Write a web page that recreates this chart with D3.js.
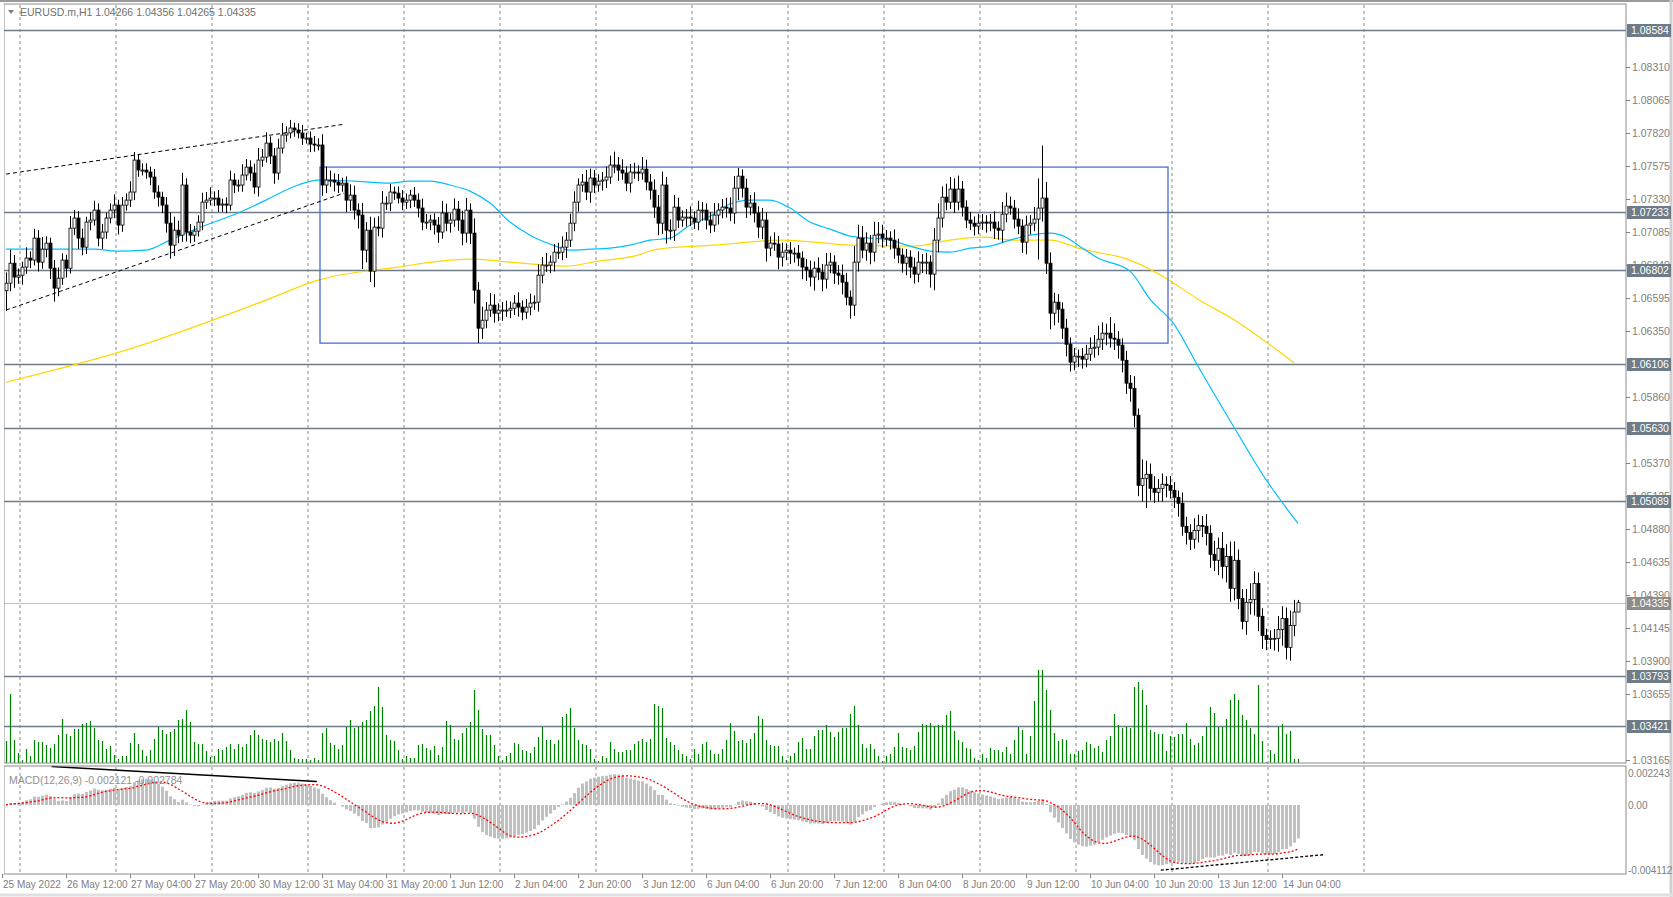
<!DOCTYPE html>
<html><head><meta charset="utf-8">
<script src="https://cdn.jsdelivr.net/npm/d3@7"></script>
<style>body{margin:0;background:#fff}svg{display:block}text{font-family:Tahoma,"Liberation Sans",sans-serif;}</style>
</head><body><svg id="c" width="1673" height="897"></svg>
<script>
// ---- data ----
const closes5 = [6706,6854,6751,6765,6825,6892,6877,7040,6862,6958,7003,6817,6669,6743,6877,6817,7114,7189,7040,6973,
7159,7174,7248,7040,7085,7189,7248,7285,7137,7285,7322,7382,7619,7545,7545,7530,7493,7382,7344,7285,
7151,6988,7099,7062,7434,7085,7062,7092,7159,7307,7322,7337,7337,7285,7293,7285,7471,7434,7434,7508,
7567,7523,7419,7619,7641,7745,7649,7523,7708,7805,7820,7857,7842,7820,7782,7782,7738,7731,7731,7434,
7471,7471,7456,7434,7448,7322,7359,7248,7211,6951,7099,6795,7122,7114,7300,7300,7382,7374,7337,7307,
7322,7359,7322,7263,7159,7159,7174,7137,7085,7226,7151,7174,7255,7174,7077,7248,7077,6654,6372,6431,
6506,6543,6483,6506,6506,6506,6520,6558,6528,6491,6528,6558,6565,6765,6840,6840,6862,6936,6936,6973,
7025,7151,7307,7434,7456,7382,7486,7434,7463,7471,7493,7582,7582,7545,7523,7448,7530,7530,7523,7552,
7456,7396,7270,7151,7434,7099,7099,7270,7174,7196,7196,7189,7159,7248,7248,7174,7137,7211,7248,7270,
7263,7226,7411,7500,7411,7270,7300,7226,7122,7174,6966,7003,6996,6899,6936,6951,6929,6929,6892,6825,
6803,6751,6817,6788,6736,6840,6862,6780,6765,6713,6602,6543,6862,7040,6951,7003,6936,7062,7070,7040,
7040,7025,6966,6914,6854,6899,6825,6773,6862,6862,6862,6773,7025,7189,7344,7307,7404,7307,7404,7270,
7174,7151,7129,7151,7159,7151,7159,7114,7099,7218,7278,7263,7181,7129,7010,7137,7151,7181,7263,7337,
6854,6483,6565,6513,6372,6253,6120,6164,6164,6142,6179,6223,6231,6290,6335,6335,6298,6290,6246,6134,
5964,5926,5726,5206,5258,5288,5184,5154,5184,5214,5206,5169,5117,5073,4902,4857,4806,4872,4909,4902,
4850,4694,4650,4739,4605,4679,4442,4650,4367,4197,4338,4360,4479,4234,4093,4063,4071,4071,4137,4219,
4004,4167,4266,4335];
const closes = closes5.map(v => 1 + v / 1e5);
const firstOpen = 1.06650;
const wickHi = [8,10,6,5,4,8,5,7,6,9,5,4,6,8,5,4,9,6,5,7, 4,6,7,5,6,4,5,8,4,6,5,8,6,4,5,5,4,6,5,4,
6,8,10,7,9,5,6,4,5,7,6,8,5,6,4,5,7,5,4,8, 6,5,7,9,6,8,5,6,7,9,5,6,4,5,6,4,5,6,5,8,
10,7,5,6,4,5,8,7,5,9,6,10,7,8,9,5,6,4,5,6, 5,4,6,5,7,6,4,5,6,9,7,5,8,6,7,9,5,11,6,10,
6,9,8,5,6,7,5,6,8,5,6,7,5,8,6,9,5,6,7,8, 6,7,8,5,6,9,7,6,5,6,8,7,10,6,8,5,6,7,5,9,
7,6,8,9,10,6,8,9,7,5,6,8,5,7,6,5,6,9,5,6, 7,8,9,6,5,7,6,8,5,9,6,5,8,6,7,5,6,4,6,5,
6,7,5,8,6,9,7,5,6,8,7,5,12,10,9,8,6,10,9,7, 6,5,8,7,5,6,5,7,8,6,7,5,9,11,8,10,9,8,10,6,
5,6,5,7,6,5,6,8,5,9,10,7,6,8,5,7,6,9,22,39, 12,8,7,6,5,7,5,6,5,6,7,8,9,10,8,7,12,11,6,5,
7,6,9,5,14,10,8,9,7,8,6,7,6,5,8,7,6,9,8,7, 9,6,10,8,12,9,11,14,8,7,10,12,9,8,6,5,6,7,10,9, 8,11,9,2.1];
const wickLo = [15,6,8,5,7,5,6,4,7,5,6,8,10,6,5,7,4,5,8,6, 5,6,4,6,8,5,4,6,7,5,4,5,6,5,4,5,6,5,7,6,
7,10,8,6,5,7,6,5,4,6,5,4,6,5,5,6,4,6,5,5, 4,6,5,7,5,4,6,8,5,4,5,4,5,4,5,4,6,5,4,8,
6,5,7,6,5,9,8,7,10,14,9,8,12,6,7,5,6,5,4,6, 5,6,5,7,6,5,6,7,8,5,6,7,5,8,9,7,8,10,11,8,
6,5,7,6,8,5,6,5,7,6,5,6,5,7,6,5,6,7,5,6, 8,5,6,7,5,6,8,6,5,7,6,5,6,8,5,6,7,5,6,5,
6,7,8,9,8,10,7,8,6,5,7,6,5,6,8,7,6,5,7,6, 7,6,8,9,7,8,6,7,8,9,10,6,5,9,7,6,8,7,6,9,
8,7,10,6,9,7,6,8,7,9,6,10,8,7,6,8,9,7,6,7, 6,7,8,6,7,9,8,7,6,8,9,10,12,9,7,6,5,8,6,7,
6,5,7,6,5,7,6,8,7,9,6,5,7,6,8,9,7,6,30,10, 8,12,9,10,8,9,7,6,8,7,6,5,7,6,8,9,7,8,10,9,
8,10,9,8,12,22,9,8,7,10,9,6,8,10,7,9,8,7,9,8, 9,10,8,11,9,12,10,9,8,6,10,9,12,11,10,8,7,9,10,12, 9,10,8,0.1];
const volumes = [22,69,23,10,3,14,7,23,21,21,18,15,19,28,44,29,27,34,34,39,40,42,35,23,22,14,17,8,4,7,
7,20,30,19,13,7,13,24,36,33,29,31,34,43,44,53,41,21,19,19,12,6,7,14,13,16,19,14,19,16,
19,28,33,28,24,23,21,24,22,30,22,13,5,4,4,4,3,5,3,30,35,20,18,14,18,36,43,35,36,41,
43,52,57,76,56,28,23,22,13,4,7,5,5,18,19,15,13,17,8,16,42,38,24,23,30,35,41,73,53,34,
28,28,18,7,3,7,10,20,19,13,12,10,16,26,36,23,23,19,23,46,49,55,35,23,19,18,14,4,2,7,
5,21,14,11,11,13,13,19,22,24,21,24,59,57,55,25,21,18,13,9,7,4,14,9,19,21,13,9,9,14,
23,40,32,22,23,20,24,30,47,44,23,18,17,17,7,3,7,10,21,25,14,14,27,33,33,38,31,26,31,35,
35,49,57,38,19,15,19,14,7,2,7,9,16,30,16,15,13,17,31,39,38,40,37,38,38,48,52,32,23,21,
15,14,5,3,9,5,15,13,13,11,16,9,23,36,33,9,27,62,93,93,73,53,30,22,24,23,9,9,12,13,
21,19,15,17,11,23,27,49,38,35,36,35,76,81,73,58,33,31,29,29,12,27,26,29,29,40,24,18,20,27,
36,56,50,36,36,44,63,69,63,48,43,35,29,78,22,1,13,9,36,39,29,32,4,4];
const maFast = [[0,1.06958],[22,1.06958],[28,1.06944],[35,1.06951],[41,1.07025],[48,1.07114],[58,1.07226],[65,1.07322],
[73,1.07434],[78,1.07471],[87,1.07463],[96,1.07448],[101,1.07463],[106,1.07463],[111,1.07434],[116,1.07389],
[121,1.07300],[126,1.07159],[131,1.07062],[136,1.06996],[141,1.06951],[146,1.06958],[151,1.06966],[156,1.06988],
[161,1.07025],[166,1.07040],[171,1.07137],[176,1.07203],[181,1.07293],[186,1.07322],[191,1.07322],[196,1.07263],
[201,1.07159],[206,1.07107],[211,1.07055],[216,1.07040],[221,1.07025],[226,1.06981],[231,1.06944],[236,1.06936],
[241,1.06966],[246,1.06981],[251,1.07025],[256,1.07062],[261,1.07077],[265,1.07047],[268,1.06988],[273,1.06892],
[281,1.06795],[286,1.06587],[292,1.06402],[298,1.06090],[307,1.05637],[315,1.05248],[323,1.04924]];
const maSlow = [[0,1.05971],[30,1.06209],[65,1.06580],[78,1.06728],[98,1.06825],[111,1.06877],[117,1.06884],
[126,1.06862],[140,1.06832],[148,1.06869],[157,1.06906],[163,1.06958],[177,1.06988],[194,1.07025],[202,1.07010],
[211,1.06988],[227,1.06981],[236,1.07025],[244,1.07047],[252,1.07025],[261,1.07025],[269,1.06958],[281,1.06877],
[290,1.06743],[298,1.06587],[307,1.06434],[315,1.06270],[322,1.06115]];
const levels = [1.08584,1.07233,1.06802,1.06106,1.05630,1.05089,1.03793,1.03421];
const lastPrice = 1.04335;
const priceTicks = [1.08310,1.08065,1.07820,1.07575,1.07330,1.07085,1.06840,1.06595,1.06350,1.05860,1.05370,1.05125,1.04880,1.04635,1.04390,1.04145,1.03900,1.03655,1.03165];
const timeLabels = ["25 May 2022","26 May 12:00","27 May 04:00","27 May 20:00","30 May 12:00","31 May 04:00","31 May 20:00","1 Jun 12:00","2 Jun 04:00","2 Jun 20:00","3 Jun 12:00","6 Jun 04:00","6 Jun 20:00","7 Jun 12:00","8 Jun 04:00","8 Jun 20:00","9 Jun 12:00","10 Jun 04:00","10 Jun 20:00","13 Jun 12:00","14 Jun 04:00"];
const daySeparators = [4,28,52,76,100,124,148,172,196,220,244,268,292,316,340];
const boxRange = {i0:79, i1:291, top:1.07567, bottom:1.06261};
const channelUpper = [[0,1.07515],[84.75,1.07886]];
const channelLower = [[0,1.06506],[84.5,1.07374]];
const macdTopLine = [[11.4,0.00244],[77.7,0.00149]];
const macdBottomLine = [[288.7,-0.00413],[329.3,-0.00315]];
const macdAxis = [0.002243,0,-0.004112];

// ---- scales ----
const svg = d3.select("#c");
const x = d3.scaleLinear().domain([0,323]).range([6,1298]);
const y = d3.scaleLinear().domain([1.03146,1.08777]).range([763,4]);
const yv = d3.scaleLinear().domain([0,94]).range([763,669]);
const ym = d3.scaleLinear().domain([-0.00437,0.00247]).range([874,766]);
const PL=4, PR=1626;

svg.append("rect").attr("x",0).attr("y",0).attr("width",1673).attr("height",897).attr("fill","#fff");
svg.append("line").attr("x1",0).attr("x2",1673).attr("y1",1).attr("y2",1).attr("stroke","#9a9a9a").attr("stroke-width",2);
svg.append("line").attr("x1",1671).attr("x2",1671).attr("y1",0).attr("y2",897).attr("stroke","#d0d0d0").attr("stroke-width",3);
svg.append("line").attr("x1",0).attr("x2",1673).attr("y1",895).attr("y2",895).attr("stroke","#e0e0e0").attr("stroke-width",3);

svg.append("g").selectAll("line").data(daySeparators).join("line")
  .attr("x1",d=>x(d)-2).attr("x2",d=>x(d)-2).attr("y1",5).attr("y2",874)
  .attr("stroke","#8a8a8a").attr("stroke-dasharray","3,3").attr("stroke-width",1);

svg.append("g").selectAll("line").data(levels).join("line")
  .attr("x1",PL).attr("x2",PR).attr("y1",d=>Math.round(y(d))+0.5).attr("y2",d=>Math.round(y(d))+0.5)
  .attr("stroke","#6e7b89").attr("stroke-width",1.3);
svg.append("line").attr("x1",PL).attr("x2",PR).attr("y1",Math.round(y(lastPrice))+0.5).attr("y2",Math.round(y(lastPrice))+0.5).attr("stroke","#c0c0c0");

svg.append("g").selectAll("line").data(volumes).join("line")
  .attr("x1",(d,i)=>x(i)+0.5).attr("x2",(d,i)=>x(i)+0.5).attr("y1",yv(0)).attr("y2",d=>yv(d))
  .attr("stroke","#008000").attr("stroke-width",1.2);

const line = d3.line().x(d=>x(d[0])).y(d=>y(d[1])).curve(d3.curveMonotoneX);
svg.append("path").attr("d",line(maSlow)).attr("fill","none").attr("stroke","#ffd700").attr("stroke-width",1.2);
svg.append("path").attr("d",line(maFast)).attr("fill","none").attr("stroke","#00bfff").attr("stroke-width",1.2);

svg.append("rect").attr("x",x(boxRange.i0)-2).attr("y",y(boxRange.top)).attr("width",x(boxRange.i1)-x(boxRange.i0))
  .attr("height",y(boxRange.bottom)-y(boxRange.top)).attr("fill","none").attr("stroke","#4a6fd4").attr("stroke-width",1.3);

const sl = d3.line().x(d=>x(d[0])).y(d=>y(d[1]));
[channelUpper,channelLower].forEach(l=>svg.append("path").attr("d",sl(l)).attr("fill","none").attr("stroke","#000").attr("stroke-dasharray","4,3"));

const bars = closes.map((c,i)=>{const o=i?closes[i-1]:firstOpen;return {i,o,c,h:Math.max(o,c)+wickHi[i]/1e4,l:Math.min(o,c)-wickLo[i]/1e4};});
const g = svg.append("g");
g.selectAll("line").data(bars).join("line").attr("x1",d=>x(d.i)+0.5).attr("x2",d=>x(d.i)+0.5)
  .attr("y1",d=>y(d.h)).attr("y2",d=>y(d.l)).attr("stroke","#000");
g.selectAll("rect").data(bars).join("rect").attr("x",d=>x(d.i)-1).attr("width",3)
  .attr("y",d=>y(Math.max(d.o,d.c))).attr("height",d=>Math.max(1,Math.abs(y(d.o)-y(d.c))))
  .attr("fill",d=>d.c>=d.o?"#fff":"#000").attr("stroke","#000").attr("stroke-width",0.8);

function ema(arr,n){const a=2/(n+1);let e=arr[0];return arr.map(v=>e=e+a*(v-e));}
const e12=ema(closes,12), e26=ema(closes,26);
const macd=e12.map((v,i)=>v-e26[i]);
const signal=macd.map((v,i)=>d3.mean(macd.slice(Math.max(0,i-8),i+1)));
svg.append("g").selectAll("rect").data(macd).join("rect")
  .attr("x",(d,i)=>x(i)-1).attr("width",3).attr("y",d=>Math.min(ym(d),ym(0))).attr("height",d=>Math.abs(ym(d)-ym(0)))
  .attr("fill","#c0c0c0");
svg.append("path").attr("d",d3.line().x((d,i)=>x(i)).y(d=>ym(d))(signal)).attr("fill","none").attr("stroke","#ff0000").attr("stroke-dasharray","2,2").attr("stroke-width",1.3);
const ml=d3.line().x(d=>x(d[0])).y(d=>ym(d[1]));
svg.append("path").attr("d",ml(macdTopLine)).attr("stroke","#000").attr("stroke-width",1.5).attr("fill","none");
svg.append("path").attr("d",ml(macdBottomLine)).attr("stroke","#000").attr("stroke-dasharray","3,2").attr("stroke-width",1.3).attr("fill","none");

svg.append("rect").attr("x",PL).attr("y",4).attr("width",PR-PL).attr("height",759).attr("fill","none").attr("stroke","#8c8c8c");
svg.append("rect").attr("x",PL).attr("y",766).attr("width",PR-PL).attr("height",108).attr("fill","none").attr("stroke","#8c8c8c");
svg.append("rect").attr("x",0).attr("y",4).attr("width",PL).attr("height",870).attr("fill","#fff");

const ax = svg.append("g").attr("font-size",10.5).attr("fill","#808080");
priceTicks.forEach(p=>{const yy=Math.round(y(p));
  ax.append("line").attr("x1",PR).attr("x2",PR+4).attr("y1",yy+0.5).attr("y2",yy+0.5).attr("stroke","#808080");
  ax.append("text").attr("x",PR+6).attr("y",yy+4).text(p.toFixed(5));});
const lab = (p,bg)=>{const yy=Math.round(y(p));
  ax.append("rect").attr("x",PR+1).attr("y",yy-6).attr("width",44).attr("height",13).attr("fill",bg);
  ax.append("text").attr("x",PR+5).attr("y",yy+4).attr("fill","#fff").text(p.toFixed(5));};
levels.forEach(p=>lab(p,"#6e7b89"));
lab(lastPrice,"#8c8c8c");
macdAxis.forEach((v,k)=>{const yy=k===0?773:(k===2?870:ym(v));
  ax.append("text").attr("x",PR+2).attr("y",yy+4).attr("font-size",10).text(v===0?"0.00":v.toFixed(6));});

svg.append("g").attr("font-size",10).attr("fill","#808080").selectAll("text").data(timeLabels).join("text")
  .attr("x",(d,k)=>x(k*16)-3).attr("y",888).text(d=>d);
svg.append("g").selectAll("line").data(timeLabels).join("line")
  .attr("x1",(d,k)=>x(k*16)-3.5).attr("x2",(d,k)=>x(k*16)-3.5).attr("y1",874).attr("y2",878).attr("stroke","#808080");

svg.append("path").attr("d","M8,10 L14,10 L11,14 Z").attr("fill","#808080");
svg.append("text").attr("x",20).attr("y",16).attr("font-size",10.5).attr("fill","#707070")
  .text("EURUSD.m,H1  1.04266 1.04356 1.04265 1.04335");
svg.append("text").attr("x",9).attr("y",784).attr("font-size",10.5).attr("fill","#909090")
  .text("MACD(12,26,9) -0.002121 -0.002784");
</script></body></html>
